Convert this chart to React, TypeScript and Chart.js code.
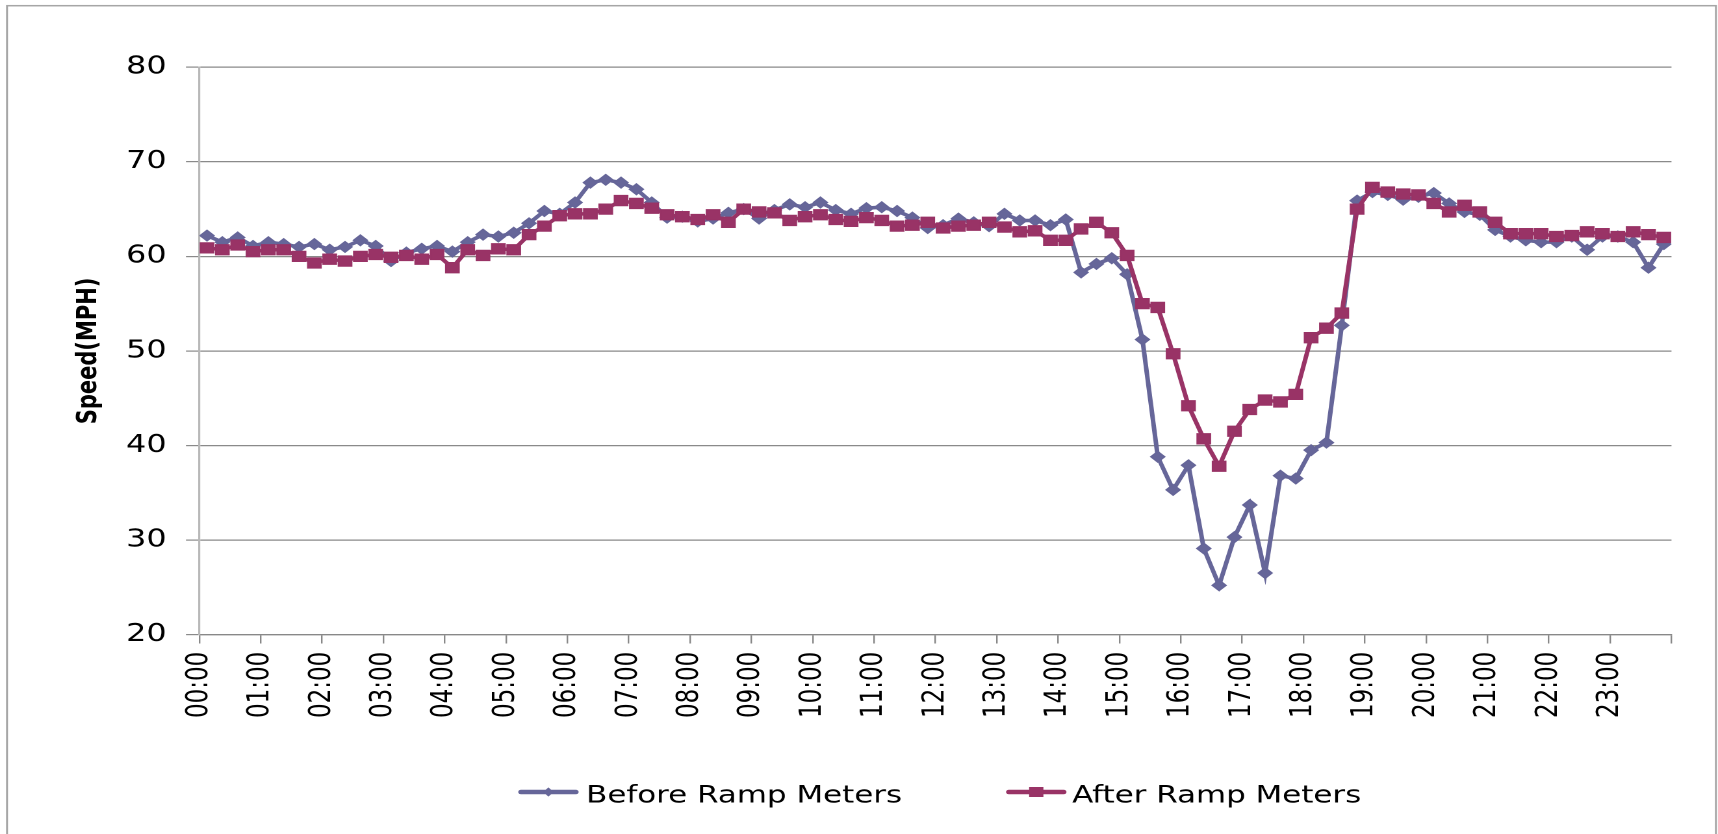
import React, { useEffect, useRef } from 'react';
import { Chart, registerables } from 'chart.js';

Chart.register(...registerables);

// Tick labels (one per hour); each hour holds four 15-minute slots
const hourLabels = [
  '00:00', '01:00', '02:00', '03:00', '04:00', '05:00', '06:00', '07:00',
  '08:00', '09:00', '10:00', '11:00', '12:00', '13:00', '14:00', '15:00',
  '16:00', '17:00', '18:00', '19:00', '20:00', '21:00', '22:00', '23:00',
];
const slotsPerHour = 4;

const seriesNames = ['Before Ramp Meters', 'After Ramp Meters'];
const seriesColors = ['#666699', '#993366'];

// Speed (MPH), 15-minute slots from 00:00 to 23:45
const beforeSpeeds = [
  62.2, 61.5, 62.0, 61.1, 61.5, 61.3, 61.0, 61.3, 60.7, 61.0, 61.7, 61.1,
  59.5, 60.4, 60.8, 61.1, 60.5, 61.5, 62.3, 62.1, 62.5, 63.5, 64.8, 64.5,
  65.7, 67.8, 68.1, 67.8, 67.1, 65.7, 64.1, 64.2, 63.7, 64.0, 64.6, 65.0,
  64.0, 64.9, 65.5, 65.2, 65.7, 64.9, 64.5, 65.1, 65.2, 64.8, 64.1, 63.0,
  63.3, 64.0, 63.6, 63.2, 64.5, 63.8, 63.8, 63.3, 63.9, 58.3, 59.2, 59.8,
  58.1, 51.2, 38.8, 35.3, 37.9, 29.1, 25.2, 30.3, 33.7, 26.5, 36.8, 36.5,
  39.5, 40.3, 52.7, 65.9, 66.8, 66.5, 66.0, 66.3, 66.7, 65.6, 64.7, 64.4,
  62.8, 62.1, 61.7, 61.5, 61.5, 62.1, 60.7, 62.1, 62.1, 61.5, 58.8, 61.3,
];

const afterSpeeds = [
  60.9, 60.7, 61.2, 60.5, 60.7, 60.7, 60.0, 59.3, 59.7, 59.5, 60.0, 60.2,
  59.9, 60.1, 59.7, 60.2, 58.8, 60.7, 60.1, 60.8, 60.7, 62.3, 63.2, 64.3,
  64.5, 64.5, 65.0, 65.9, 65.6, 65.1, 64.4, 64.2, 63.9, 64.4, 63.6, 65.0,
  64.7, 64.6, 63.8, 64.2, 64.4, 63.9, 63.7, 64.1, 63.8, 63.2, 63.3, 63.6,
  63.0, 63.2, 63.3, 63.6, 63.1, 62.6, 62.7, 61.7, 61.7, 62.9, 63.6, 62.5,
  60.1, 55.0, 54.6, 49.7, 44.2, 40.7, 37.8, 41.5, 43.8, 44.8, 44.6, 45.4,
  51.4, 52.4, 54.0, 65.0, 67.3, 66.8, 66.6, 66.5, 65.6, 64.7, 65.4, 64.7,
  63.6, 62.4, 62.4, 62.4, 62.1, 62.2, 62.6, 62.4, 62.1, 62.6, 62.3, 62.0,
];

const yTicks = { min: 20, max: 80, step: 10 };

// Layout (the original picture is horizontally stretched; draw narrow, stretch with CSS)
const CANVAS_W = 1322;
const CANVAS_H = 834;
const STRETCH = 1718 / CANVAS_W;
const FONT = '"DejaVu Sans", Verdana, sans-serif';

const framePlugin = {
  id: 'frame',
  beforeDraw(chart: any) {
    const { ctx } = chart;
    ctx.save();
    ctx.fillStyle = '#ffffff';
    ctx.fillRect(0, 0, chart.width, chart.height);
    ctx.strokeStyle = '#a6a6a6';
    ctx.lineWidth = 1.5;
    ctx.strokeRect(5.4, 5.7, 1315, 900);
    ctx.restore();
  },
};

const legendItems = [
  { lineX: 401, textX: 451 },
  { lineX: 776.4, textX: 825 },
];

const legendPlugin = {
  id: 'lineMarkerLegend',
  afterDraw(chart: any) {
    const { ctx } = chart;
    chart.data.datasets.forEach((ds: any, i: number) => {
      const it = legendItems[i];
      if (!it) return;
      const y = 792;
      ctx.save();
      ctx.strokeStyle = ds.borderColor;
      ctx.lineWidth = 4.5;
      ctx.lineCap = 'round';
      ctx.beginPath();
      ctx.moveTo(it.lineX, y);
      ctx.lineTo(it.lineX + 42, y);
      ctx.stroke();
      const cx = it.lineX + 21;
      ctx.fillStyle = ds.borderColor;
      ctx.beginPath();
      if (ds.pointStyle === 'rectRot') {
        ctx.moveTo(cx, y - 4.6);
        ctx.lineTo(cx + 4, y);
        ctx.lineTo(cx, y + 4.6);
        ctx.lineTo(cx - 4, y);
        ctx.closePath();
      } else {
        ctx.rect(cx - 5.5, y - 5, 11, 10);
      }
      ctx.fill();
      ctx.fillStyle = '#000000';
      ctx.font = `23.8px ${FONT}`;
      ctx.textBaseline = 'alphabetic';
      ctx.textAlign = 'left';
      ctx.fillText(ds.label, it.textX, 802.7);
      ctx.restore();
    });
  },
};

export default function App() {
  const canvasRef = useRef<HTMLCanvasElement | null>(null);

  useEffect(() => {
    document.body.style.margin = '0';
    document.body.style.overflow = 'hidden';
    const canvas = canvasRef.current;
    if (!canvas) return;

    const toPoints = (arr: number[]) => arr.map((v, i) => ({ x: i + 0.5, y: v }));

    const chart = new Chart(canvas, {
      type: 'line',
      data: {
        datasets: [
          {
            label: seriesNames[0],
            data: toPoints(beforeSpeeds),
            borderColor: seriesColors[0],
            backgroundColor: seriesColors[0],
            pointBackgroundColor: seriesColors[0],
            pointBorderColor: seriesColors[0],
            pointStyle: 'rectRot',
            pointRadius: 5.5,
            pointBorderWidth: 1,
            borderWidth: 3.5,
            tension: 0,
            order: 2,
          },
          {
            label: seriesNames[1],
            data: toPoints(afterSpeeds),
            borderColor: seriesColors[1],
            backgroundColor: seriesColors[1],
            pointBackgroundColor: seriesColors[1],
            pointBorderColor: seriesColors[1],
            pointStyle: 'rect',
            pointRadius: 7.3,
            pointBorderWidth: 1,
            borderWidth: 3.5,
            tension: 0,
            order: 1,
          },
        ],
      },
      options: {
        animation: false,
        responsive: false,
        devicePixelRatio: 2,
        layout: { padding: { left: 0, top: 67.3, right: 34.7, bottom: 109.5 } },
        plugins: {
          legend: { display: false },
          tooltip: { enabled: false },
        },
        scales: {
          x: {
            type: 'linear',
            min: 0,
            max: hourLabels.length * slotsPerHour,
            afterFit: (s: any) => {
              s.height = 90;
            },
            ticks: {
              stepSize: slotsPerHour,
              autoSkip: false,
              maxRotation: 90,
              minRotation: 90,
              padding: 8.2,
              color: '#000000',
              font: { family: FONT, size: 23 },
              callback: (value: any) => {
                const idx = Math.round(Number(value) / slotsPerHour);
                return idx < hourLabels.length ? hourLabels[idx] : '';
              },
            },
            grid: {
              drawOnChartArea: false,
              drawTicks: true,
              tickLength: 9,
              color: '#888888',
              lineWidth: 1.2,
            },
            border: { display: true, color: '#888888', width: 1.3 },
          },
          y: {
            min: yTicks.min,
            max: yTicks.max,
            afterFit: (s: any) => {
              s.width = 153.4;
            },
            ticks: {
              stepSize: yTicks.step,
              padding: 14.9,
              color: '#000000',
              font: { family: FONT, size: 24.5 },
            },
            grid: {
              color: '#8a8a8a',
              lineWidth: 1.2,
              tickLength: 10.3,
              drawTicks: true,
            },
            border: { display: true, color: '#b8b8b8', width: 1.6 },
            title: {
              display: true,
              text: 'Speed(MPH)',
              color: '#000000',
              font: { family: FONT, size: 21, weight: 'bold' },
              padding: { top: 55.7, bottom: 0 },
            },
          },
        },
      },
      plugins: [framePlugin, legendPlugin],
    } as any);

    return () => {
      chart.destroy();
    };
  }, []);

  return (
    <div style={{ width: 1718, height: CANVAS_H, overflow: 'hidden', position: 'relative' }}>
      <div
        style={{
          width: CANVAS_W,
          height: CANVAS_H,
          transform: `scaleX(${STRETCH})`,
          transformOrigin: '0 0',
        }}
      >
        <canvas ref={canvasRef} width={CANVAS_W} height={CANVAS_H} />
      </div>
    </div>
  );
}
